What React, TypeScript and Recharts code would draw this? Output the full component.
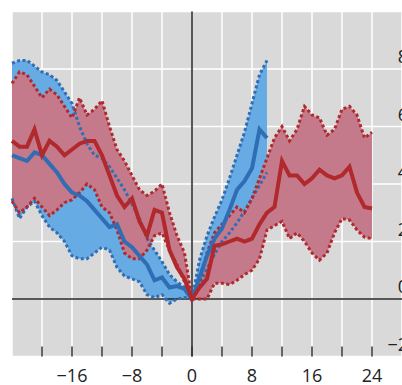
import React from "react";
import { ComposedChart, Area, Line, XAxis, YAxis, CartesianGrid, ReferenceLine } from "recharts";

// months relative to the event, -24 .. 24
const months = Array.from({ length: 49 }, (_, i) => i - 24);

// blue series runs -24 .. 10
const blueHigh = [8.2, 8.3, 8.3, 8.1, 7.9, 7.8, 7.6, 7.2, 6.8, 6.0, 5.4, 5.0, 4.9, 4.6, 4.2, 3.8, 3.3, 2.8, 2.1, 1.7, 1.3, 0.85, 0.6, 0.4, 0,
  1.35, 2.2, 2.85, 3.45, 4.2, 5.0, 5.8, 6.8, 7.8, 8.3];
const blueMid = [5.0, 4.9, 4.8, 5.1, 5.0, 4.7, 4.4, 4.0, 3.7, 3.6, 3.4, 3.1, 2.8, 2.5, 2.6, 2.0, 1.8, 1.5, 1.2, 0.65, 0.75, 0.4, 0.45, 0.35, 0,
  0.75, 1.5, 2.1, 2.45, 3.1, 3.8, 4.1, 4.55, 5.9, 5.6];
const blueLow = [3.5, 2.8, 3.2, 3.4, 2.9, 2.5, 2.3, 2.0, 1.5, 1.4, 1.4, 1.6, 1.8, 1.7, 1.1, 0.8, 0.7, 0.6, 0.15, 0.05, 0.15, -0.15, 0.0, 0.05, 0,
  0.5, 1.05, 1.55, 2.0, 2.3, 2.65, 3.05, 3.5, 3.95, 4.4];

// red series runs -24 .. 24
const redHigh = [7.5, 7.9, 7.8, 7.4, 7.0, 7.3, 7.1, 6.7, 6.3, 7.0, 6.4, 6.6, 6.9, 6.0, 5.2, 4.8, 4.3, 3.8, 3.6, 3.75, 4.0, 3.0, 2.2, 1.6, 0,
  0.6, 1.6, 2.3, 2.6, 2.9, 3.2, 3.0, 3.5, 4.2, 4.9, 5.6, 6.0, 5.5, 5.9, 6.7, 6.4, 6.3, 5.7, 5.9, 6.6, 6.7, 6.4, 5.6, 5.8];
const redMid = [5.5, 5.3, 5.3, 5.9, 5.0, 5.5, 5.3, 5.0, 5.2, 5.4, 5.5, 5.5, 5.0, 4.3, 3.6, 3.2, 3.5, 2.7, 2.2, 3.1, 3.0, 1.7, 1.1, 0.7, 0,
  0.4, 0.7, 1.85, 1.9, 2.0, 2.1, 2.0, 2.1, 2.6, 3.0, 3.2, 4.8, 4.3, 4.3, 4.0, 4.2, 4.5, 4.3, 4.2, 4.3, 4.6, 3.7, 3.2, 3.15];
const redLow = [3.4, 3.0, 3.2, 3.5, 3.2, 2.9, 3.1, 3.35, 3.45, 3.7, 4.0, 3.8, 3.2, 3.0, 2.4, 1.6, 1.4, 1.4, 1.7, 2.2, 2.3, 1.7, 1.2, 0.6, 0,
  0.0, 0.0, 0.55, 0.55, 0.5, 0.65, 0.85, 1.0, 1.4, 2.4, 2.55, 2.7, 2.1, 2.3, 2.0, 1.6, 1.35, 1.6, 2.3, 2.8, 2.75, 2.4, 2.15, 2.1];

const xTicks = [-20, -16, -12, -8, -4, 0, 4, 8, 12, 16, 20, 24];
const yTicks = [-2, 0, 2, 4, 6, 8];

const BLUE = "#2f6db5";
const BLUE_FILL = "#66abe3";
const RED = "#b1282d";
const RED_FILL = "#c47a8a";
const FONT = "'Open Sans', sans-serif";

const fmt = (v: number) => (v < 0 ? "\u2212" + Math.abs(v) : String(v));

const rows = months.map((m, i) => {
  const hasBlue = i < blueMid.length;
  return {
    m,
    blueBand: hasBlue ? [blueLow[i], blueHigh[i]] : null,
    blueHigh: hasBlue ? blueHigh[i] : null,
    blueMid: hasBlue ? blueMid[i] : null,
    blueLow: hasBlue ? blueLow[i] : null,
    redBand: [redLow[i], redHigh[i]],
    redHigh: redHigh[i],
    redMid: redMid[i],
    redLow: redLow[i],
  };
});

function XTick(props: any) {
  const { x, y, payload } = props;
  const v = payload.value;
  return (
    <g>
      <line x1={x} x2={x} y1={y - 10} y2={y} stroke="#333" strokeWidth={1.5} />
      {v % 8 === 0 && (
        <text x={x} y={y + 25} textAnchor="middle" fontSize={18} fontFamily={FONT} fill="#222">
          {fmt(v)}
        </text>
      )}
    </g>
  );
}

function YTick(props: any) {
  const { x, y, payload } = props;
  return (
    <text x={x + 6} y={y - 6} textAnchor="end" fontSize={18} fontFamily={FONT} fill="#222">
      {fmt(payload.value)}
    </text>
  );
}

const dotted = { strokeWidth: 3, strokeDasharray: "3 2.5", dot: false, activeDot: false, isAnimationActive: false } as const;

export default function App() {
  return (
    <div style={{ position: "fixed", left: 0, top: 0, width: 402, height: 385, overflow: "hidden", background: "#fff" }}>
      <ComposedChart width={440} height={385} data={rows} margin={{ top: 11.5, right: 0, bottom: 0, left: 12 }}>
        <CartesianGrid fill="#d9d9d9" stroke="#fff" strokeWidth={1.5} />
        <XAxis
          dataKey="m"
          type="number"
          domain={[-24, 28]}
          ticks={xTicks}
          height={28.5}
          tickSize={0}
          tickMargin={0}
          axisLine={false}
          tickLine={false}
          tick={<XTick />}
          interval={0}
        />
        <YAxis
          orientation="right"
          domain={[-2, 10]}
          ticks={yTicks}
          width={38}
          tickSize={0}
          tickMargin={0}
          axisLine={false}
          tickLine={false}
          tick={<YTick />}
          interval={0}
        />
        <Area dataKey="blueBand" stroke="none" fill={BLUE_FILL} fillOpacity={1} isAnimationActive={false} activeDot={false} />
        <Area dataKey="redBand" stroke="none" fill={RED_FILL} fillOpacity={1} isAnimationActive={false} activeDot={false} />
        <ReferenceLine x={0} stroke="#222" strokeWidth={1.5} />
        <ReferenceLine y={0} stroke="#222" strokeWidth={1.5} />
        <Line dataKey="blueHigh" stroke={BLUE} {...dotted} />
        <Line dataKey="blueLow" stroke={BLUE} {...dotted} />
        <Line dataKey="redHigh" stroke={RED} {...dotted} />
        <Line dataKey="redLow" stroke={RED} {...dotted} />
        <Line dataKey="blueMid" stroke={BLUE} strokeWidth={4} dot={false} activeDot={false} isAnimationActive={false} />
        <Line dataKey="redMid" stroke={RED} strokeWidth={4} dot={false} activeDot={false} isAnimationActive={false} />
      </ComposedChart>
    </div>
  );
}
